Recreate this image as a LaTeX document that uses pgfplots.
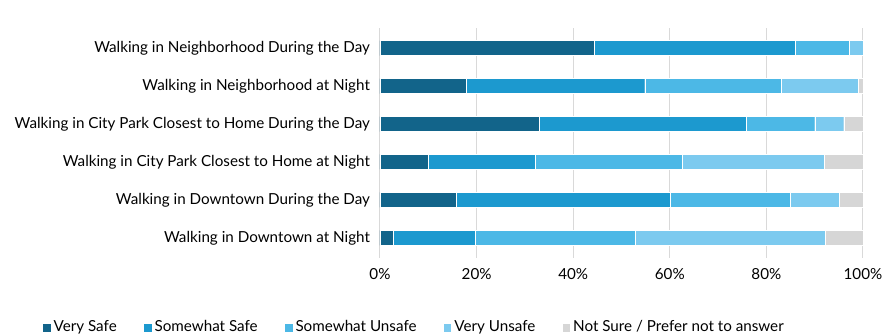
\documentclass[border=0pt]{standalone}
\usepackage{pgfplots}
\pgfplotsset{compat=1.18}
\usepackage{fontspec}
\setmainfont{Lato}
\definecolor{c1}{HTML}{12648A}
\definecolor{c2}{HTML}{1C99CF}
\definecolor{c3}{HTML}{4CB8E6}
\definecolor{c4}{HTML}{7CCAEF}
\definecolor{c5}{HTML}{D6D6D6}
\definecolor{gridc}{HTML}{D9D9D9}
\begin{document}
\begin{tikzpicture}
\begin{axis}[
  name=ax,
  scale only axis,
  width=362.25pt, height=172.5pt,
  xbar stacked,
  bar width=11.25pt,
  xmin=0, xmax=100,
  ymin=-0.53, ymax=5.53,
  y dir=reverse,
  ytick={0,1,2,3,4,5},
  yticklabels={Walking in Neighborhood During the Day,
    Walking in Neighborhood at Night,
    Walking in City Park Closest to Home During the Day,
    Walking in City Park Closest to Home at Night,
    Walking in Downtown During the Day,
    Walking in Downtown at Night},
  xtick={0,20,40,60,80,100},
  xticklabel={\pgfmathprintnumber{\tick}\%},
  /pgf/number format/assume math mode=true,
  axis line style={draw=none},
  major tick length=0pt,
  xmajorgrids,
  grid style={gridc, line width=0.75pt},
  font=\fontsize{11.4}{13}\selectfont,
  yticklabel style={font=\fontsize{11.4}{13}\selectfont, xshift=-4pt},
  xticklabel style={font=\fontsize{11.4}{13}\selectfont, yshift=-4pt},
  legend columns=-1,
  legend style={draw=none, at={(-0.70,-0.30)}, anchor=west, inner sep=0pt,
    font=\fontsize{11.4}{13}\selectfont,
    /tikz/every even column/.append style={column sep=17.75pt},
    /tikz/every odd column/.append style={column sep=0pt}},
  legend image code/.code={\fill[#1] (0pt,-3.6pt) rectangle (6.4pt,2.8pt);},
  every axis plot/.append style={draw=white, line width=0.2pt},
]
\addplot[fill=c1] coordinates {(44.3,0) (17.8,1) (32.9,2) (9.9,3) (15.7,4) (2.8,5)};
\addplot[fill=c2] coordinates {(41.6,0) (37.0,1) (43.0,2) (22.3,3) (44.3,4) (17.0,5)};
\addplot[fill=c3] coordinates {(11.2,0) (28.2,1) (14.1,2) (30.3,3) (25.0,4) (33.1,5)};
\addplot[fill=c4] coordinates {(2.9,0) (16.0,1) (6.0,2) (29.4,3) (10.0,4) (39.2,5)};
\addplot[fill=c5] coordinates {(0,0) (1.0,1) (4.0,2) (8.1,3) (5.0,4) (7.9,5)};
\legend{Very Safe, Somewhat Safe, Somewhat Unsafe, Very Unsafe, Not Sure / Prefer not to answer}
\end{axis}
\pgfresetboundingbox
\path[use as bounding box] ([xshift=-285pt, yshift=-56.25pt]ax.south west) rectangle ([xshift=17.25pt, yshift=21pt]ax.north east);
\end{tikzpicture}
\end{document}
